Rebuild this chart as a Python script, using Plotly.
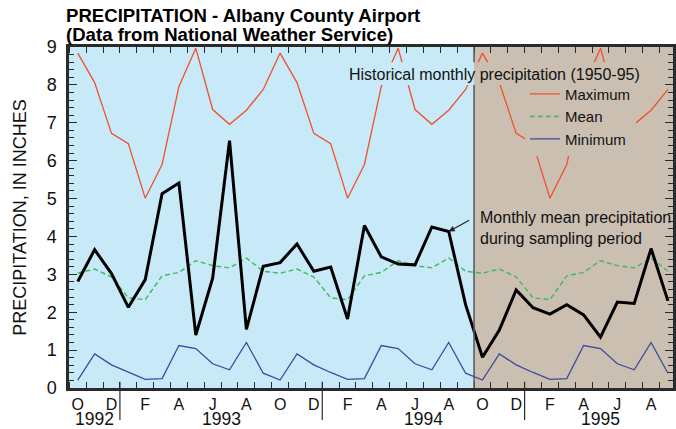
import plotly.graph_objects as go

# ---- data ----
month_letters = ["O", "N", "D", "J", "F", "M", "A", "M", "J", "J", "A", "S"]  # starting October
# historical (1950-95) by calendar month, Oct..Sep
hist_max = [8.84, 8.06, 6.72, 6.45, 5.01, 5.90, 7.96, 8.97, 7.35, 6.96, 7.33, 7.88]
hist_mean = [3.03, 3.14, 2.93, 2.38, 2.33, 2.96, 3.05, 3.36, 3.23, 3.17, 3.43, 3.08]
hist_min = [0.21, 0.90, 0.61, 0.41, 0.23, 0.25, 1.12, 1.04, 0.64, 0.48, 1.20, 0.39]
# monthly mean precipitation Oct 1992 - Sep 1995
observed = [2.81, 3.65, 3.02, 2.13, 2.86, 5.13, 5.41, 1.40, 2.90, 6.53, 1.55, 3.21,
            3.31, 3.80, 3.08, 3.19, 1.82, 4.29, 3.46, 3.27, 3.25, 4.25, 4.13, 2.20,
            0.81, 1.53, 2.59, 2.12, 1.95, 2.20, 1.93, 1.34, 2.27, 2.23, 3.68, 2.30]
years = ["1992", "1993", "1994", "1995"]
year_months = [3, 12, 12, 9]          # months shown in each year
sampling_start = 24                   # index of Oct 1994

n = len(observed)
idx = list(range(n))
cal = [i % 12 for i in idx]
ymax = [hist_max[c] for c in cal]
ymean = [hist_mean[c] for c in cal]
ymin = [hist_min[c] for c in cal]

BLUE_BG = "#c8e9f8"
BROWN_BG = "#cbbfb1"
AX = "#2a2a2a"
FONT = "Liberation Sans, Arial, sans-serif"

fig = go.Figure()
fig.add_trace(go.Scatter(x=idx, y=ymax, mode="lines", name="Maximum",
                         line=dict(color="#f0502c", width=1.3)))
fig.add_trace(go.Scatter(x=idx, y=ymean, mode="lines", name="Mean",
                         line=dict(color="#3fba5a", width=1.4, dash="5px,3px")))
fig.add_trace(go.Scatter(x=idx, y=ymin, mode="lines", name="Minimum",
                         line=dict(color="#3a4d9c", width=1.3)))
fig.add_trace(go.Scatter(x=idx, y=observed, mode="lines", showlegend=False,
                         line=dict(color="black", width=3)))

x0, x1 = -0.52, 35.3
shapes = [
    dict(type="rect", xref="x", yref="paper", x0=x0, x1=sampling_start - 0.5, y0=0, y1=1,
         fillcolor=BLUE_BG, line_width=0, layer="below"),
    dict(type="rect", xref="x", yref="paper", x0=sampling_start - 0.5, x1=x1, y0=0, y1=1,
         fillcolor=BROWN_BG, line_width=0, layer="below"),
    dict(type="line", xref="x", yref="paper", x0=sampling_start - 0.5, x1=sampling_start - 0.5,
         y0=0, y1=1, line=dict(color="#555", width=1.5), layer="above"),
    # knockout behind the historical caption
    dict(type="rect", xref="x", yref="y", x0=16.1, x1=sampling_start - 0.5, y0=8.0, y1=8.6,
         fillcolor=BLUE_BG, line_width=0, layer="above"),
    dict(type="rect", xref="x", yref="y", x0=sampling_start - 0.5, x1=33.4, y0=8.0, y1=8.6,
         fillcolor=BROWN_BG, line_width=0, layer="above"),
]

annotations = []
# year separators and labels
start = 0
for yr, m in zip(years, year_months):
    annotations.append(dict(x=start + (m - 1) / 2, y=-0.092, xref="x", yref="paper",
                            text=yr, showarrow=False, font=dict(size=17.5, family=FONT, color="#111"),
                            yanchor="middle", borderpad=0))
    end = start + m
    if end < n:
        shapes.append(dict(type="line", xref="x", yref="paper", x0=end - 0.5, x1=end - 0.5,
                           y0=0.018, y1=-0.094, line=dict(color=AX, width=1.2)))
    start = end

annotations += [
    dict(x=-0.009, y=1.091, xref="paper", yref="paper", xanchor="left", yanchor="middle",
         text="<b>PRECIPITATION - Albany County Airport</b>", showarrow=False,
         font=dict(size=18.6, family=FONT, color="black")),
    dict(x=-0.009, y=1.038, xref="paper", yref="paper", xanchor="left", yanchor="middle",
         text="<b>(Data from National Weather Service)</b>", showarrow=False,
         font=dict(size=18.6, family=FONT, color="black")),
    dict(x=24.72, y=8.28, xref="x", yref="y", text="Historical monthly precipitation (1950-95)",
         showarrow=False, font=dict(size=16, family=FONT, color="#111")),
    dict(x=22, y=observed[22], xref="x", yref="y", ax=22, ay=-12, text="",
         showarrow=True, arrowhead=2, arrowsize=1, arrowwidth=1.2, arrowcolor="#222"),
    dict(x=23.74, y=4.23, xref="x", yref="y", xanchor="left", yanchor="middle", align="left",
         text="Monthly mean precipitation<br>during sampling period", showarrow=False,
         font=dict(size=16, family=FONT, color="#111")),
]

month_vals = [i for i in idx if i % 2 == 0]
month_text = [month_letters[cal[i]] for i in month_vals]

common_x = dict(range=[x0, x1], showgrid=False, zeroline=False, showline=True,
                linecolor=AX, linewidth=2.5, automargin=False,
                tickmode="array", tickvals=month_vals, ticktext=month_text,
                ticks="outside", ticklen=0, tickfont=dict(size=16),
                minor=dict(ticks="inside", ticklen=6, tick0=0.5, dtick=1, tickcolor=AX, tickwidth=1.3))
common_y = dict(range=[0, 9], dtick=1, showgrid=False, zeroline=False, showline=True, automargin=False,
                linecolor=AX, linewidth=2.5, ticks="inside", ticklen=8, tickwidth=1.3, tickcolor=AX,
                minor=dict(ticks="inside", ticklen=5, dtick=0.2, tickcolor=AX, tickwidth=1.2))
fig.update_layout(
    width=676, height=429,
    margin=dict(l=69, r=3, t=47, b=41, autoexpand=False),
    paper_bgcolor="white", plot_bgcolor=BLUE_BG,
    font=dict(family=FONT, color="#111"),
    xaxis=dict(**common_x),
    xaxis2=dict(**common_x, overlaying="x", side="top", showticklabels=False, matches="x"),
    yaxis=dict(**common_y, tickfont=dict(size=18), ticklabelstandoff=6,
               title=dict(text="PRECIPITATION, IN INCHES", font=dict(size=18), standoff=16)),
    yaxis2=dict(**common_y, overlaying="y", side="right", showticklabels=False, matches="y"),
    legend=dict(x=0.755, y=0.91, xanchor="left", yanchor="top", bgcolor=BROWN_BG,
                font=dict(size=15, family=FONT, color="#111"), itemwidth=30,
                tracegroupgap=0),
    shapes=shapes, annotations=annotations,
)
# dummy trace to activate the mirrored axes
fig.add_trace(go.Scatter(x=[None], y=[None], xaxis="x2", yaxis="y2", showlegend=False, hoverinfo="skip"))
fig.write_html("out.html", config={"displayModeBar": False},
               post_script="document.body.style.margin='0';document.body.style.overflow='hidden';")
